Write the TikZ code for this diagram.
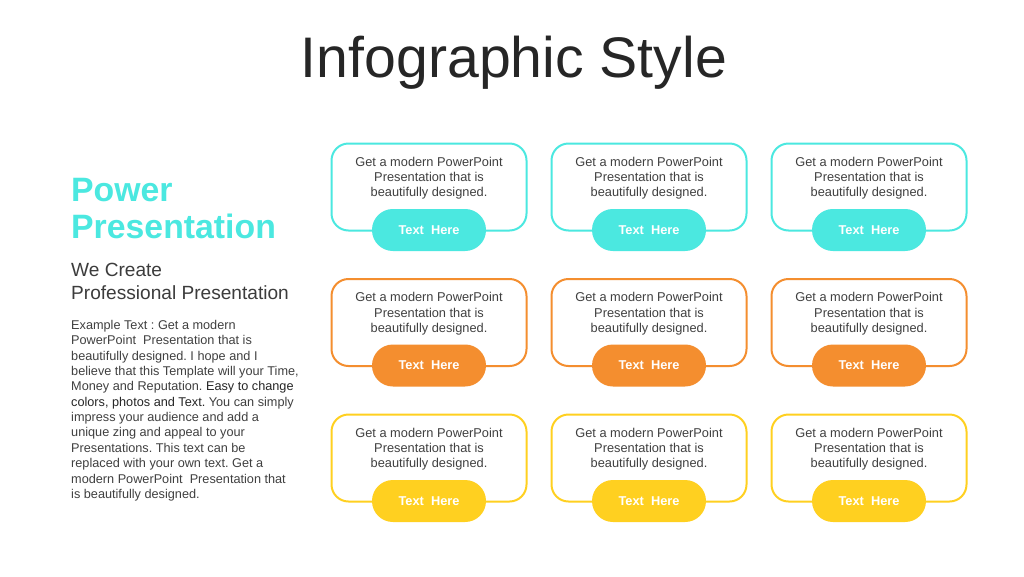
\documentclass[tikz,border=0pt]{standalone}
\usepackage{fontspec}
\setmainfont{Liberation Sans}
\definecolor{cyanc}{HTML}{4BE8E0}
\definecolor{orangec}{HTML}{F48E2F}
\definecolor{yellowc}{HTML}{FFD020}
\definecolor{darktxt}{HTML}{262626}
\definecolor{bodytxt}{HTML}{404040}
\tikzset{
cardbox/.style={draw,line width=2pt,rounded corners=17pt,minimum width=195pt,minimum height=87pt,inner sep=0pt},
cardtxt/.style={align=center,text=bodytxt,font=\fontsize{12.8}{15.4}\selectfont,inner sep=0pt},
pillbox/.style={rounded corners=20.9pt,minimum width=114pt,minimum height=42pt,inner sep=0pt,text=white,font=\fontsize{12.8}{15}\selectfont\bfseries},
headtxt/.style={anchor=west,align=left,inner sep=0pt},
}
\begin{document}
\begin{tikzpicture}[x=1pt,y=-1pt]
\frenchspacing
\useasboundingbox[fill=white](0,0) rectangle (1024,576);
\node[text=darktxt,font=\fontsize{57.2}{60}\selectfont,inner sep=0pt] (title) at (514,63) {Infographic Style};
%
\node[headtxt,text=cyanc,font=\fontsize{33.8}{37.5}\selectfont\bfseries] (power) at (71,208.7) {Power\\Presentation};
\node[headtxt,text=darktxt!90,font=\fontsize{19.1}{23}\selectfont] (create) at (71,281.2) {We Create\\Professional Presentation};
\node[headtxt,text=bodytxt,font=\fontsize{12.7}{15.36}\selectfont] (body) at (71,410.6) {Example Text : Get a modern\\PowerPoint~ Presentation that is\\beautifully designed. I hope and I\\believe that this Template will your Time,\\Money and Reputation. \textcolor{darktxt}{Easy to change}\\\textcolor{darktxt}{colors, photos and Text.} You can simply\\impress your audience and add a\\unique zing and appeal to your\\Presentations. This text can be\\replaced with your own text. Get a\\modern PowerPoint~ Presentation that\\is beautifully designed.};
%
\foreach \r/\yy/\colr in {1/187/cyanc,2/322.5/orangec,3/458/yellowc}{
\foreach \k/\xx in {1/429,2/649,3/869}{
\node[cardbox,draw=\colr] (card\r\k) at (\xx,\yy) {};
\node[cardtxt] (txt\r\k) at (\xx,\yy-8.8) {Get a modern PowerPoint\\Presentation that is\\beautifully designed.};
\node[pillbox,fill=\colr] (pill\r\k) at (\xx,\yy+43) {Text~ Here};
}
}
\end{tikzpicture}
\end{document}
